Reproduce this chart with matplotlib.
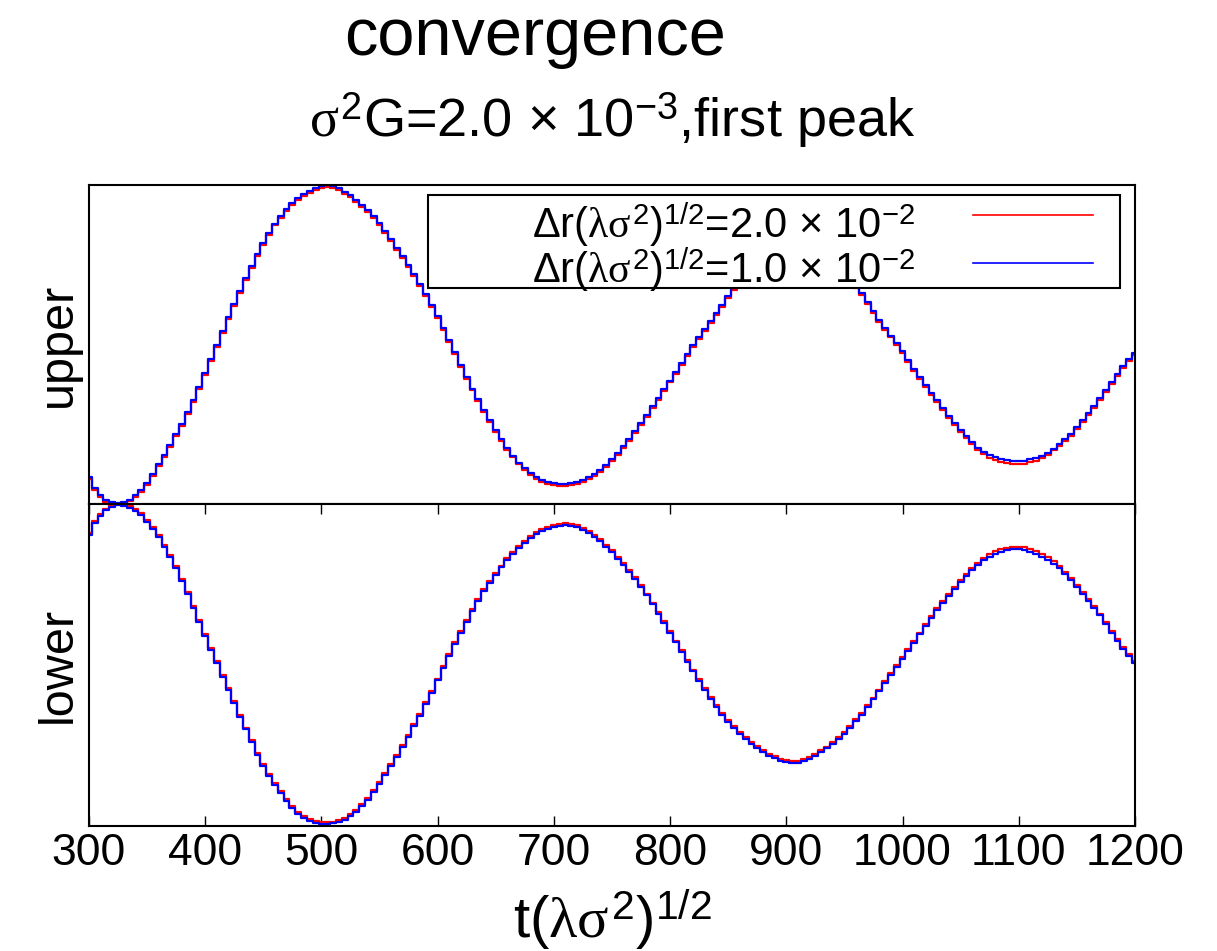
import numpy as np
import matplotlib
matplotlib.use('Agg')
import matplotlib.pyplot as plt
from matplotlib.patches import Rectangle
from matplotlib.lines import Line2D

plt.rcParams["font.family"] = "Liberation Sans"
plt.rcParams["mathtext.fontset"] = "custom"
plt.rcParams["mathtext.rm"] = "Liberation Sans"
plt.rcParams["mathtext.it"] = "Liberation Serif"
plt.rcParams["mathtext.bf"] = "Liberation Sans:bold"
plt.rcParams["mathtext.sf"] = "Liberation Sans"

# bin centres, t (lambda sigma^2)^(1/2)
t = np.arange(300, 1201, 5)

# upper branch, dr = 2.0e-2 (red) and 1.0e-2 (blue)
upper_blue = [
    0.085, 0.050, 0.027, 0.012, 0.005, 0.002, 0.005, 0.014, 0.027, 0.043,
    0.065, 0.094, 0.124, 0.154, 0.185, 0.218, 0.252, 0.287, 0.325, 0.366,
    0.410, 0.454, 0.498, 0.542, 0.585, 0.627, 0.668, 0.708, 0.746, 0.783,
    0.818, 0.850, 0.879, 0.904, 0.925, 0.943, 0.958, 0.971, 0.982, 0.990,
    0.996, 0.999, 0.996, 0.989, 0.979, 0.967, 0.953, 0.938, 0.921, 0.902,
    0.880, 0.856, 0.830, 0.803, 0.776, 0.748, 0.720, 0.690, 0.658, 0.625,
    0.590, 0.553, 0.515, 0.476, 0.437, 0.398, 0.362, 0.328, 0.295, 0.263,
    0.232, 0.203, 0.176, 0.152, 0.130, 0.112, 0.097, 0.085, 0.076, 0.070,
    0.066, 0.064, 0.064, 0.066, 0.070, 0.076, 0.084, 0.094, 0.107, 0.122,
    0.140, 0.160, 0.182, 0.205, 0.228, 0.254, 0.280, 0.307, 0.333, 0.360,
    0.387, 0.414, 0.442, 0.470, 0.497, 0.522, 0.548, 0.573, 0.598, 0.625,
    0.652, 0.676, 0.697, 0.716, 0.733, 0.748, 0.762, 0.774, 0.784, 0.792,
    0.797, 0.800, 0.801, 0.799, 0.795, 0.789, 0.780, 0.769, 0.756, 0.741,
    0.724, 0.705, 0.684, 0.660, 0.632, 0.605, 0.578, 0.553, 0.528, 0.504,
    0.480, 0.452, 0.424, 0.397, 0.372, 0.349, 0.327, 0.302, 0.277, 0.255,
    0.233, 0.212, 0.194, 0.177, 0.164, 0.154, 0.147, 0.142, 0.138, 0.135,
    0.134, 0.136, 0.140, 0.145, 0.152, 0.161, 0.174, 0.188, 0.204, 0.220,
    0.240, 0.262, 0.285, 0.308, 0.331, 0.358, 0.383, 0.408, 0.432, 0.455,
    0.474]
upper_red = [
    0.079, 0.044, 0.021, 0.006, 0.000, 0.000, 0.000, 0.008, 0.021, 0.037,
    0.059, 0.088, 0.118, 0.148, 0.179, 0.212, 0.246, 0.281, 0.319, 0.360,
    0.404, 0.448, 0.492, 0.536, 0.579, 0.621, 0.662, 0.702, 0.740, 0.777,
    0.812, 0.844, 0.873, 0.898, 0.919, 0.937, 0.952, 0.965, 0.976, 0.984,
    0.990, 0.993, 0.990, 0.983, 0.973, 0.961, 0.947, 0.932, 0.915, 0.896,
    0.874, 0.850, 0.824, 0.797, 0.770, 0.742, 0.714, 0.684, 0.652, 0.619,
    0.584, 0.547, 0.509, 0.470, 0.431, 0.392, 0.356, 0.322, 0.289, 0.257,
    0.226, 0.197, 0.170, 0.146, 0.124, 0.106, 0.091, 0.079, 0.070, 0.064,
    0.060, 0.058, 0.058, 0.060, 0.064, 0.070, 0.078, 0.088, 0.101, 0.116,
    0.134, 0.154, 0.176, 0.199, 0.222, 0.248, 0.274, 0.301, 0.327, 0.354,
    0.381, 0.408, 0.436, 0.464, 0.491, 0.516, 0.542, 0.567, 0.592, 0.619,
    0.646, 0.670, 0.691, 0.710, 0.727, 0.742, 0.756, 0.768, 0.778, 0.786,
    0.791, 0.794, 0.795, 0.793, 0.789, 0.783, 0.774, 0.763, 0.750, 0.735,
    0.718, 0.699, 0.678, 0.654, 0.626, 0.599, 0.572, 0.547, 0.522, 0.498,
    0.474, 0.446, 0.418, 0.391, 0.366, 0.343, 0.321, 0.296, 0.271, 0.249,
    0.227, 0.206, 0.187, 0.170, 0.156, 0.145, 0.138, 0.133, 0.129, 0.126,
    0.125, 0.127, 0.131, 0.136, 0.144, 0.154, 0.168, 0.182, 0.198, 0.214,
    0.234, 0.256, 0.279, 0.302, 0.325, 0.352, 0.377, 0.402, 0.426, 0.449,
    0.468]

# lower branch
lower_blue = [
    0.905, 0.940, 0.962, 0.980, 0.990, 0.997, 0.995, 0.988, 0.978, 0.965,
    0.945, 0.922, 0.898, 0.868, 0.835, 0.800, 0.762, 0.720, 0.677, 0.634,
    0.590, 0.548, 0.505, 0.463, 0.422, 0.382, 0.339, 0.300, 0.262, 0.222,
    0.186, 0.156, 0.128, 0.102, 0.078, 0.056, 0.038, 0.025, 0.016, 0.010,
    0.007, 0.006, 0.008, 0.012, 0.020, 0.030, 0.044, 0.062, 0.082, 0.106,
    0.132, 0.160, 0.188, 0.215, 0.245, 0.277, 0.310, 0.342, 0.378, 0.414,
    0.452, 0.490, 0.528, 0.565, 0.600, 0.635, 0.668, 0.700, 0.729, 0.756,
    0.780, 0.803, 0.825, 0.845, 0.863, 0.879, 0.894, 0.906, 0.916, 0.923,
    0.929, 0.933, 0.935, 0.933, 0.928, 0.920, 0.910, 0.898, 0.885, 0.868,
    0.850, 0.830, 0.810, 0.789, 0.766, 0.742, 0.716, 0.688, 0.660, 0.630,
    0.600, 0.570, 0.540, 0.510, 0.480, 0.451, 0.422, 0.395, 0.369, 0.345,
    0.323, 0.304, 0.287, 0.271, 0.256, 0.242, 0.230, 0.219, 0.210, 0.203,
    0.199, 0.197, 0.197, 0.201, 0.208, 0.218, 0.229, 0.241, 0.254, 0.269,
    0.286, 0.305, 0.325, 0.346, 0.369, 0.393, 0.418, 0.443, 0.468, 0.493,
    0.518, 0.543, 0.569, 0.595, 0.621, 0.646, 0.670, 0.693, 0.715, 0.737,
    0.758, 0.777, 0.795, 0.811, 0.825, 0.837, 0.846, 0.852, 0.856, 0.859,
    0.859, 0.857, 0.852, 0.845, 0.837, 0.827, 0.815, 0.800, 0.783, 0.764,
    0.743, 0.722, 0.700, 0.678, 0.654, 0.628, 0.601, 0.576, 0.551, 0.528,
    0.505]
lower_red = [
    0.911, 0.946, 0.968, 0.986, 0.996, 1.000, 1.000, 0.994, 0.984, 0.971,
    0.951, 0.928, 0.904, 0.874, 0.841, 0.806, 0.768, 0.726, 0.683, 0.640,
    0.596, 0.554, 0.511, 0.469, 0.428, 0.388, 0.345, 0.306, 0.268, 0.228,
    0.192, 0.162, 0.134, 0.108, 0.084, 0.062, 0.044, 0.031, 0.022, 0.016,
    0.012, 0.011, 0.013, 0.018, 0.026, 0.036, 0.050, 0.068, 0.088, 0.112,
    0.138, 0.166, 0.194, 0.221, 0.251, 0.283, 0.316, 0.348, 0.384, 0.420,
    0.458, 0.496, 0.534, 0.571, 0.606, 0.641, 0.674, 0.706, 0.735, 0.762,
    0.786, 0.809, 0.831, 0.851, 0.869, 0.885, 0.900, 0.912, 0.922, 0.929,
    0.935, 0.939, 0.941, 0.939, 0.934, 0.926, 0.916, 0.904, 0.891, 0.874,
    0.856, 0.836, 0.816, 0.795, 0.772, 0.748, 0.722, 0.694, 0.666, 0.636,
    0.606, 0.576, 0.546, 0.516, 0.486, 0.457, 0.428, 0.401, 0.375, 0.351,
    0.329, 0.310, 0.293, 0.277, 0.262, 0.248, 0.236, 0.225, 0.216, 0.209,
    0.205, 0.203, 0.203, 0.207, 0.214, 0.224, 0.235, 0.247, 0.260, 0.275,
    0.292, 0.311, 0.331, 0.352, 0.375, 0.399, 0.424, 0.449, 0.474, 0.499,
    0.524, 0.549, 0.575, 0.601, 0.627, 0.652, 0.676, 0.699, 0.721, 0.743,
    0.764, 0.783, 0.801, 0.818, 0.832, 0.844, 0.855, 0.861, 0.865, 0.868,
    0.868, 0.866, 0.861, 0.854, 0.846, 0.834, 0.822, 0.806, 0.789, 0.770,
    0.749, 0.728, 0.706, 0.684, 0.660, 0.634, 0.607, 0.582, 0.557, 0.534,
    0.511]

labels = [r'$\Delta$r($\lambda\sigma^2$)$^{1/2}$=2.0 × 10$^{-2}$',
          r'$\Delta$r($\lambda\sigma^2$)$^{1/2}$=1.0 × 10$^{-2}$']
colors = ['#ff0000', '#0000ff']

fig = plt.figure(figsize=(12.17, 9.51), dpi=100)
ax1 = fig.add_axes([0.0731, 0.470, 0.8595, 0.3355])
ax2 = fig.add_axes([0.0731, 0.1314, 0.8595, 0.3386])

for ax, yr, yb in [(ax1, upper_red, upper_blue), (ax2, lower_red, lower_blue)]:
    ax.step(t, yr, where='mid', color=colors[0], lw=1.6)
    ax.step(t, yb, where='mid', color=colors[1], lw=1.6)
    ax.set_xlim(300, 1200)
    ax.set_ylim(0, 1)
    ax.set_yticks([])
    for s in ax.spines.values():
        s.set_linewidth(1.5)

ax1.set_xticks([])
ax2.set_xticks(np.arange(300, 1201, 100))
ax2.tick_params(axis='x', direction='in', top=True, length=7, width=1,
                labelsize=32, pad=5)

ax1.set_ylabel('upper', fontsize=35, labelpad=6)
ax2.set_ylabel('lower', fontsize=35, labelpad=6)

# gnuplot style key: opaque box, right aligned text, sample on the right
ax1.add_patch(Rectangle((0.324, 0.677), 0.662, 0.292, transform=ax1.transAxes,
                        facecolor='white', edgecolor='black', lw=1.5,
                        zorder=5))
for lab, col, ys, yb in zip(labels, colors, [0.906, 0.755], [0.834, 0.693]):
    ax1.text(0.790, yb, lab, transform=ax1.transAxes, fontsize=30,
             ha='right', va='baseline', zorder=6)
    ax1.add_line(Line2D([0.845, 0.960], [ys, ys], transform=ax1.transAxes,
                        color=col, lw=1.2, zorder=6))

fig.text(0.44, 0.942, 'convergence', fontsize=48, ha='center', va='baseline')
fig.text(0.503, 0.856, r'$\sigma^2$G=2.0 × 10$^{-3}$,first peak',
         fontsize=39, ha='center', va='baseline')
fig.text(0.503, 0.014, r't($\lambda\sigma^2$)$^{1/2}$', fontsize=42,
         ha='center', va='baseline')

fig.savefig('out.png', dpi=100)
